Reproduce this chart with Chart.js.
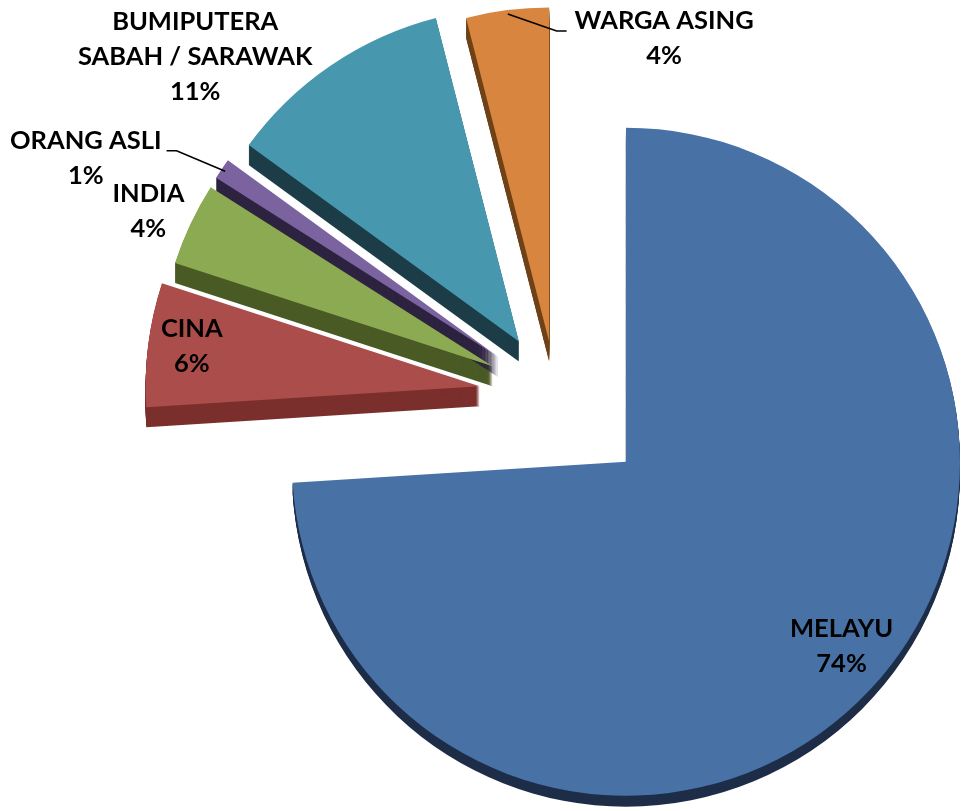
<!DOCTYPE html>
<html>
<head>
<meta charset="utf-8">
<script src="https://cdn.jsdelivr.net/npm/chart.js@4/dist/chart.umd.min.js"></script>
<style>
  html, body { margin: 0; padding: 0; background: #fff; }
</style>
</head>
<body>
<canvas id="c" width="961" height="811"></canvas>
<script>
const labels = ["MELAYU", "CINA", "INDIA", "ORANG ASLI", "BUMIPUTERA SABAH / SARAWAK", "WARGA ASING"];
const labelLines = [["MELAYU"], ["CINA"], ["INDIA"], ["ORANG ASLI"], ["BUMIPUTERA", "SABAH / SARAWAK"], ["WARGA ASING"]];
const values = [74, 6, 4, 1, 11, 4];
const topColors = ["#4872A6", "#AB4D4A", "#8CAA52", "#7B63A0", "#4798AF", "#D8863F"];
const sideColors = ["#1D2D48", "#7B2F2D", "#4A5A25", "#2D2340", "#1C3D48", "#6E4116"];
// how far each slice is pulled out (px)
const explode = [96, 77, 70, 70, 66, 55];
// thickness of the 3D side (px)
const depths = [11, 20, 20, 20, 20, 20];
// label spot: [angle shift in degrees, distance as share of radius]
const labelSpots = [[-2.6, 0.85], [0.7, 0.87], [-1, 1.13], [-8.5, 1.37], [-14.5, 1.29], [28, 0.97]];
const leaderLines = [false, false, false, true, false, true];

const lineH = 35;

const pie3d = {
  id: "pie3d",
  afterDatasetsUpdate(chart) {
    chart.getDatasetMeta(0).data.forEach((arc, i) => {
      const mid = (arc.startAngle + arc.endAngle) / 2;
      arc.x += Math.cos(mid) * explode[i];
      arc.y += Math.sin(mid) * explode[i];
    });
  },
  beforeDatasetsDraw(chart) {
    const ctx = chart.ctx;
    chart.getDatasetMeta(0).data.forEach((arc, i) => {
      ctx.save();
      ctx.fillStyle = sideColors[i];
      for (let d = 1; d <= depths[i]; d++) {
        ctx.beginPath();
        ctx.moveTo(arc.x, arc.y + d);
        ctx.arc(arc.x, arc.y + d, arc.outerRadius, arc.startAngle, arc.endAngle);
        ctx.closePath();
        ctx.fill();
      }
      ctx.restore();
    });
  },
  afterDatasetsDraw(chart) {
    const ctx = chart.ctx;
    ctx.save();
    ctx.font = "bold 25.5px Lato";
    ctx.fillStyle = "#000";
    ctx.strokeStyle = "#000";
    ctx.lineWidth = 1.6;
    ctx.textAlign = "center";
    ctx.textBaseline = "middle";
    chart.getDatasetMeta(0).data.forEach((arc, i) => {
      const mid = (arc.startAngle + arc.endAngle) / 2;
      const a = mid + labelSpots[i][0] * Math.PI / 180;
      const cx = arc.x + Math.cos(a) * arc.outerRadius * labelSpots[i][1];
      const cy = arc.y + Math.sin(a) * arc.outerRadius * labelSpots[i][1];
      const lines = [...labelLines[i], values[i] + "%"];
      const top = cy - (lines.length - 1) * lineH / 2;
      lines.forEach((t, k) => ctx.fillText(t, cx, top + k * lineH));
      if (leaderLines[i]) {
        const w = ctx.measureText(lines[0]).width;
        const sx = arc.x + Math.cos(mid) * (arc.outerRadius - 4);
        const sy = arc.y + Math.sin(mid) * (arc.outerRadius - 4);
        const left = cx < sx;
        const ex = left ? cx + w / 2 + 5 : cx - w / 2 - 8;
        const elx = left ? ex + 10 : ex - 10;
        const ey = top + 10;
        ctx.beginPath();
        ctx.moveTo(sx, sy);
        ctx.lineTo(elx, ey);
        ctx.lineTo(ex, ey);
        ctx.stroke();
      }
    });
    ctx.restore();
  },
};

new Chart(document.getElementById("c"), {
  type: "pie",
  data: {
    labels: labels,
    datasets: [{
      data: values,
      backgroundColor: topColors,
      borderWidth: 0,
    }],
  },
  options: {
    responsive: false,
    animation: false,
    events: [],
    radius: 334,
    layout: { padding: { left: 156, right: 5, top: 0, bottom: 19 } },
    plugins: {
      legend: { display: false },
      tooltip: { enabled: false },
    },
  },
  plugins: [pie3d],
});
</script>
</body>
</html>
